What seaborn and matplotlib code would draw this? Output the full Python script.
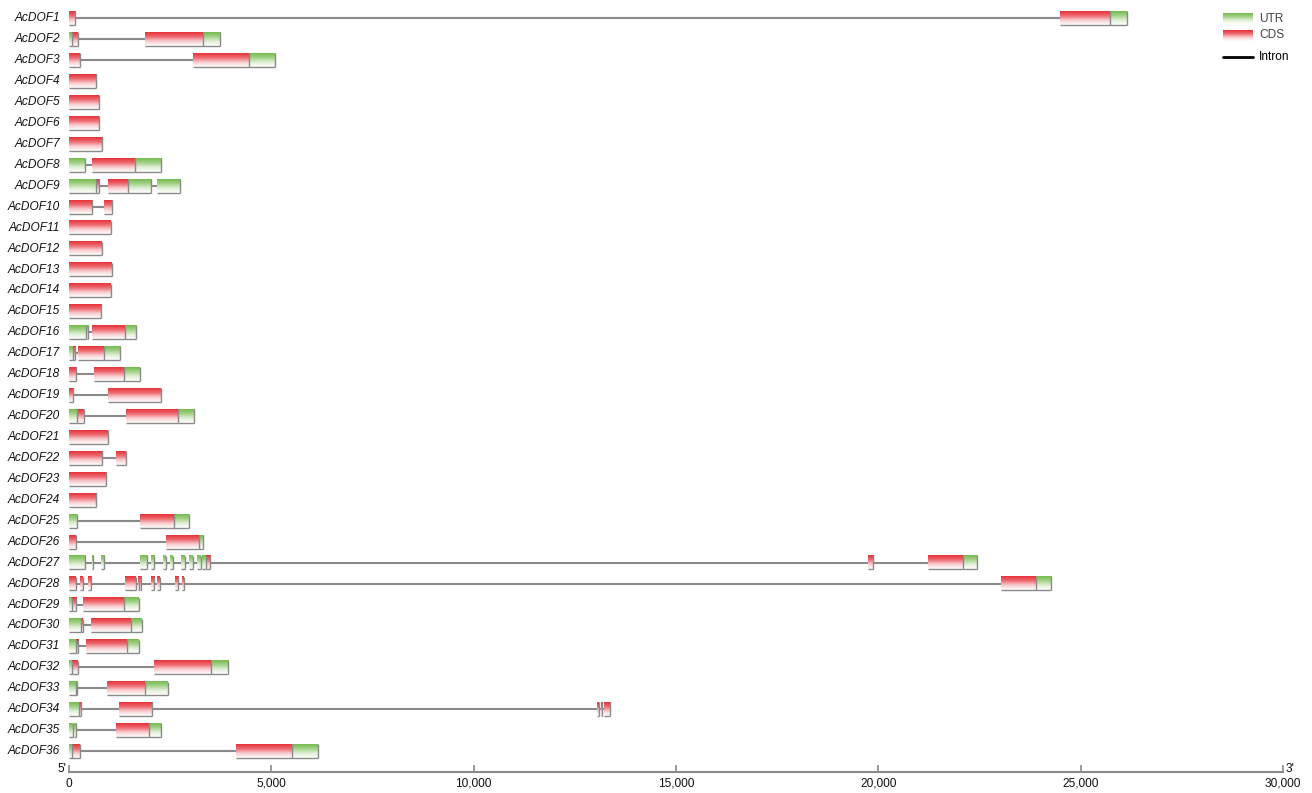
import numpy as np
import pandas as pd
import matplotlib
matplotlib.use("Agg")
import matplotlib.pyplot as plt
from matplotlib.colors import LinearSegmentedColormap
from matplotlib.collections import LineCollection
from matplotlib.ticker import FuncFormatter
import seaborn as sns

sns.set_theme(style="white")
plt.rcParams["font.family"] = ["Liberation Sans", "DejaVu Sans"]

# Gene models: exon segments as (start, end, feature) in bp from the 5' end.
# "U" = UTR, "C" = CDS; gaps between exons are introns.
gene_names = [f"AcDOF{i}" for i in range(1, 37)]
exons = [
    [(0, 160, "C"), (24500, 25720, "C"), (25720, 26140, "U")],
    [(0, 70, "U"), (70, 215, "C"), (1890, 3300, "C"), (3300, 3730, "U")],
    [(0, 265, "C"), (3070, 4450, "C"), (4450, 5090, "U")],
    [(0, 675, "C")],
    [(0, 735, "C")],
    [(0, 730, "C")],
    [(0, 825, "C")],
    [(0, 395, "U"), (580, 1620, "C"), (1620, 2280, "U")],
    [(0, 675, "U"), (675, 750, "C"), (970, 1450, "C"), (1450, 2025, "U"), (2165, 2750, "U")],
    [(0, 570, "C"), (855, 1055, "C")],
    [(0, 1035, "C")],
    [(0, 815, "C")],
    [(0, 1055, "C")],
    [(0, 1030, "C")],
    [(0, 800, "C")],
    [(0, 430, "U"), (445, 475, "U"), (570, 1385, "C"), (1385, 1665, "U")],
    [(0, 90, "U"), (90, 140, "C"), (215, 865, "C"), (865, 1265, "U")],
    [(0, 175, "C"), (625, 1360, "C"), (1360, 1745, "U")],
    [(0, 100, "C"), (970, 2270, "C")],
    [(0, 205, "U"), (205, 370, "C"), (1415, 2700, "C"), (2700, 3100, "U")],
    [(0, 955, "C")],
    [(0, 825, "C"), (1160, 1405, "C")],
    [(0, 920, "C")],
    [(0, 675, "C")],
    [(0, 190, "U"), (1760, 2600, "C"), (2600, 2970, "U")],
    [(0, 165, "C"), (2385, 3210, "C"), (3210, 3315, "U")],
    [(0, 400, "U"), (560, 590, "U"), (785, 860, "U"), (1750, 1935, "U"), (2025, 2100, "U"),
     (2320, 2390, "U"), (2500, 2565, "U"), (2775, 2860, "U"), (2975, 3055, "U"),
     (3165, 3255, "U"), (3290, 3375, "U"), (3375, 3480, "C"), (19745, 19875, "C"),
     (21235, 22080, "C"), (22080, 22450, "U")],
    [(0, 170, "C"), (270, 340, "C"), (460, 540, "C"), (1385, 1655, "C"), (1700, 1725, "C"),
     (1745, 1770, "C"), (2015, 2105, "C"), (2180, 2250, "C"), (2615, 2700, "C"),
     (2785, 2830, "C"), (23030, 23890, "C"), (23890, 24265, "U")],
    [(0, 75, "U"), (75, 175, "C"), (355, 1360, "C"), (1360, 1730, "U")],
    [(0, 295, "U"), (295, 340, "C"), (550, 1540, "C"), (1540, 1795, "U")],
    [(0, 180, "U"), (180, 230, "C"), (430, 1430, "C"), (1430, 1720, "U")],
    [(0, 80, "U"), (80, 215, "C"), (2105, 3500, "C"), (3500, 3935, "U")],
    [(0, 175, "U"), (175, 200, "U"), (945, 1885, "C"), (1885, 2445, "U")],
    [(0, 240, "U"), (240, 295, "C"), (1225, 2050, "C"), (13060, 13090, "C"),
     (13140, 13170, "C"), (13210, 13360, "C")],
    [(0, 90, "U"), (130, 175, "U"), (1160, 1975, "C"), (1975, 2265, "U")],
    [(0, 75, "U"), (75, 265, "C"), (4130, 5515, "C"), (5515, 6155, "U")],
]
x_ticks = [0, 5000, 10000, 15000, 20000, 25000, 30000]
feature_labels = ["UTR", "CDS", "Intron"]

gene_lengths = [max(e for _, e, _ in segs) for segs in exons]
rows = list(range(len(gene_names)))

W, H = 1312, 793
fig = plt.figure(figsize=(W / 100, H / 100), dpi=100)
ax = fig.add_axes([69 / W, 0, 1214 / W, 1])

# vertical gradient fills: saturated at the top, fading to white
cds_cmap = LinearSegmentedColormap.from_list("cds", ["#e6323a", "#ee6b71", "#f9cfd1", "#ffffff"])
utr_cmap = LinearSegmentedColormap.from_list("utr", ["#76bb4f", "#a3d288", "#e1f0d7", "#ffffff"])
grad = np.linspace(0, 1, 64).reshape(-1, 1)
cmaps = {"C": cds_cmap, "U": utr_cmap}
edge_gray = "#8a8a8a"

# introns: one line per gene spanning the whole model
intron_df = pd.DataFrame({
    "gene": gene_names * 2,
    "row": rows * 2,
    "pos": [0] * len(gene_names) + gene_lengths,
})
sns.lineplot(data=intron_df, x="pos", y="row", units="gene", estimator=None, sort=False,
             color=edge_gray, lw=1.5, ax=ax, legend=False, zorder=2)

box_h = 0.65
edges = []
for r, segs in zip(rows, exons):
    for s, e, kind in segs:
        ax.imshow(grad, cmap=cmaps[kind], extent=(s, e, r + box_h / 2, r - box_h / 2),
                  aspect="auto", interpolation="bilinear", origin="upper", zorder=3)
        edges.append([(s, r + box_h / 2), (e, r + box_h / 2)])
        edges.append([(e, r - box_h / 2), (e, r + box_h / 2)])
ax.add_collection(LineCollection(edges, colors=edge_gray, linewidths=1.0, zorder=4))

for r, name in zip(rows, gene_names):
    ax.text(-215, r, name, ha="right", va="center", style="italic",
            fontsize=8.6, color="#111111")

ax.set_xlim(0, 30000)
ax.set_ylim(37.0, -0.874)
ax.set_yticks([])
ax.set_xticks(x_ticks)
ax.xaxis.set_major_formatter(FuncFormatter(lambda v, p: f"{int(v):,}"))
for side in ["top", "left", "right"]:
    ax.spines[side].set_visible(False)
ax.spines["bottom"].set_position(("data", 36))
ax.spines["bottom"].set_color(edge_gray)
ax.spines["bottom"].set_linewidth(1.5)
ax.tick_params(axis="x", direction="in", length=5, width=1.2, color=edge_gray,
               labelsize=8.6, labelcolor="#111111", pad=4, bottom=True)
ax.text(-60, 36, "5'", ha="right", va="baseline", fontsize=8.6, color="#111111")
ax.text(30060, 36, "3'", ha="left", va="baseline", fontsize=8.6, color="#111111")
ax.set_xlabel("")
ax.set_ylabel("")
ax.patch.set_alpha(0)

# legend drawn in figure pixel space
ov = fig.add_axes([0, 0, 1, 1], zorder=5)
ov.imshow(grad, cmap=utr_cmap, extent=(1223, 1253, 24, 13), aspect="auto",
          interpolation="bilinear", origin="upper")
ov.imshow(grad, cmap=cds_cmap, extent=(1223, 1253, 41, 30), aspect="auto",
          interpolation="bilinear", origin="upper")
ov.plot([1223, 1253], [57, 57], color="black", lw=2)
ov.text(1259, 19, feature_labels[0], va="center", ha="left", fontsize=8.6, color="#444444")
ov.text(1259, 35.5, feature_labels[1], va="center", ha="left", fontsize=8.6, color="#444444")
ov.text(1259, 57, feature_labels[2], va="center", ha="left", fontsize=8.6, color="#000000")
ov.set_xlim(0, W)
ov.set_ylim(H, 0)
ov.axis("off")

fig.savefig("out.png", dpi=100)
